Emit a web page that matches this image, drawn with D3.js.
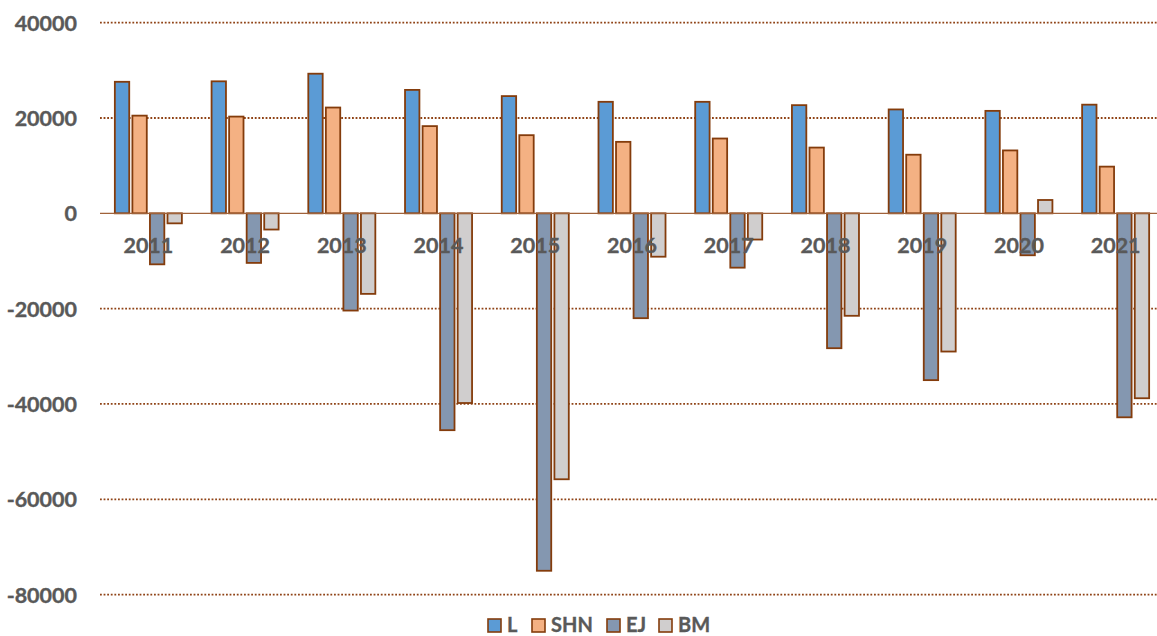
<!DOCTYPE html>
<html>
<head>
<meta charset="utf-8">
<script src="https://cdn.jsdelivr.net/npm/d3@7"></script>
<style>
  html, body { margin: 0; padding: 0; background: #fff; }
  svg { display: block; }
  text { font-family: Lato, "Open Sans", sans-serif; font-weight: bold; fill: #595959; }
</style>
</head>
<body>
<svg id="chart" width="1157" height="636"></svg>
<script>
const years = ["2011","2012","2013","2014","2015","2016","2017","2018","2019","2020","2021"];
const seriesNames = ["L","SHN","EJ","BM"];
const L   = [27600, 27700, 29300, 25900, 24600, 23400, 23400, 22700, 21800, 21500, 22800];
const SHN = [20500, 20300, 22200, 18300, 16400, 15000, 15700, 13800, 12300, 13200, 9800];
const EJ  = [-10700, -10400, -20400, -45500, -75000, -22000, -11400, -28300, -35000, -8800, -42800];
const BM  = [-2100, -3400, -16900, -39800, -55800, -9100, -5500, -21500, -29000, 2800, -38800];
const yTicks = [40000, 20000, 0, -20000, -40000, -60000, -80000];
const colors = ["#5B9BD5", "#F4B183", "#8497B0", "#D0CECE"];

const seriesValues = [L, SHN, EJ, BM];
const data = years.map((yr, i) => ({
  year: yr,
  values: seriesNames.map((s, j) => ({ key: s, value: seriesValues[j][i] }))
}));

const svg = d3.select("#chart");
const stroke = "#843C0C";

const x0 = d3.scaleBand().domain(years).range([100, 1164]).paddingInner(0.307).paddingOuter(0.1535);
const x1 = d3.scaleBand().domain(seriesNames).range([0, x0.bandwidth()]).paddingInner(0.18).paddingOuter(0);
const y = d3.scaleLinear().domain([-80000, 40000]).range([594.6, 22.7]);
const color = d3.scaleOrdinal().domain(seriesNames).range(colors);

// gridlines
svg.append("g").selectAll("line").data(yTicks.filter(t => t !== 0)).join("line")
  .attr("x1", 100).attr("x2", 1164)
  .attr("y1", d => y(d)).attr("y2", d => y(d))
  .attr("stroke", "#8F4316").attr("stroke-width", 1.8)
  .attr("stroke-dasharray", "1.8,1.8");

// y axis labels
const yAxis = d3.axisLeft(y).tickValues(yTicks).tickSize(0).tickPadding(0).tickFormat(d => String(d));
const gy = svg.append("g").attr("transform", "translate(77,0)").call(yAxis);
gy.select(".domain").remove();
gy.selectAll("text").style("font-size", "21.5px").style("font-family", "Lato, sans-serif")
  .style("font-weight", "bold").attr("fill", "#595959").attr("stroke", "#595959").attr("stroke-width", 0.35)
  .attr("dy", "0.35em");

// bars
const groups = svg.append("g").selectAll("g").data(data).join("g")
  .attr("transform", d => `translate(${x0(d.year)},0)`);
groups.selectAll("rect").data(d => d.values).join("rect")
  .attr("x", d => x1(d.key))
  .attr("width", x1.bandwidth())
  .attr("y", d => y(Math.max(0, d.value)))
  .attr("height", d => Math.abs(y(d.value) - y(0)))
  .attr("fill", d => color(d.key))
  .attr("stroke", stroke).attr("stroke-width", 1.8);

// zero line
svg.append("line").attr("x1", 100).attr("x2", 1164).attr("y1", y(0)).attr("y2", y(0))
  .attr("stroke", "#A0623A").attr("stroke-width", 1.3);

// x axis labels (drawn over bars)
const xAxis = d3.axisBottom(x0).tickSize(0).tickPadding(0);
const gx = svg.append("g").attr("transform", `translate(0,245)`).call(xAxis);
gx.select(".domain").remove();
gx.selectAll("text").style("font-size", "21.5px").style("font-family", "Lato, sans-serif")
  .style("font-weight", "bold").attr("fill", "#595959").attr("stroke", "#595959").attr("stroke-width", 0.35)
  .attr("dy", "0.35em").attr("y", 0);

// legend
const legendX = [488, 532, 607, 659];
const legend = svg.append("g").selectAll("g").data(seriesNames).join("g")
  .attr("transform", (d, i) => `translate(${legendX[i]},619)`);
legend.append("rect").attr("width", 13).attr("height", 13)
  .attr("fill", d => color(d)).attr("stroke", stroke).attr("stroke-width", 1.6);
legend.append("text").attr("x", 19).attr("y", 13)
  .style("font-size", "20px").attr("stroke", "#595959").attr("stroke-width", 0.35).text(d => d);
</script>
</body>
</html>
